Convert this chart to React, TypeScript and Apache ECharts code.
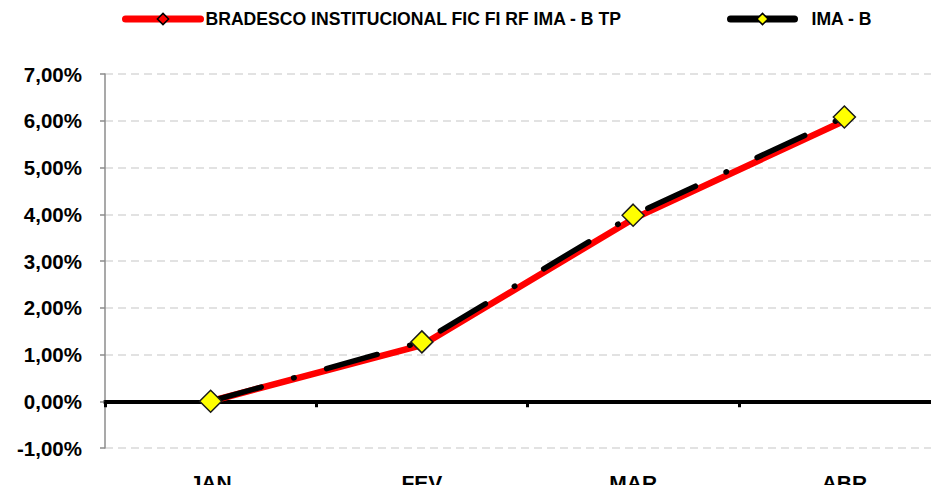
import React, { useEffect, useRef } from "react";
import * as echarts from "echarts";

const categories = ["JAN", "FEV", "MAR", "ABR"];
const fundName = "BRADESCO INSTITUCIONAL FIC FI RF IMA - B TP";
const benchName = "IMA - B";
const fundValues = [0, 1.2, 3.9, 6.0];
const benchValues = [0, 1.27, 3.98, 6.08];
const yMin = -1;
const yMax = 7;
const yStep = 1;

const FONT = "'Liberation Sans', Arial, sans-serif";

export default function App() {
  const ref = useRef<HTMLDivElement>(null);
  useEffect(() => {
    if (!ref.current) return;
    const chart = echarts.init(ref.current, undefined, { renderer: "svg" });
    chart.setOption({
      animation: false,
      backgroundColor: "#ffffff",
      legend: [
        {
          left: 122,
          top: 10,
          padding: 0,
          itemWidth: 75,
          itemHeight: 14,
          itemGap: 0,
          data: [fundName],
          lineStyle: { width: 7, cap: "round", type: "solid" },
          itemStyle: { borderColor: "#000", borderWidth: 1.5 },
          textStyle: { fontFamily: FONT, fontWeight: "bold", fontSize: 17.6, color: "#000" },
        },
        {
          left: 727,
          top: 10,
          padding: 0,
          itemWidth: 64,
          itemHeight: 14,
          itemGap: 0,
          data: [benchName],
          lineStyle: { width: 7, cap: "round", type: "solid" },
          itemStyle: { borderColor: "#000", borderWidth: 1.5 },
          textStyle: { fontFamily: FONT, fontWeight: "bold", fontSize: 17.6, color: "#000", padding: [0, 0, 0, 12] },
        },
      ],
      grid: { left: 105, top: 74, bottom: 45, right: -11, containLabel: false, outerBoundsMode: "none" },
      xAxis: [
        {
          type: "category",
          data: categories,
          boundaryGap: true,
          axisLine: { show: true, onZero: true, lineStyle: { color: "#000", width: 4 } },
          axisTick: { show: true, length: 6, lineStyle: { color: "#000", width: 3 } },
          axisLabel: { show: false },
          splitLine: { show: false },
        },
        {
          type: "category",
          data: categories,
          position: "bottom",
          boundaryGap: true,
          axisLine: { show: false, onZero: false },
          axisTick: { show: false },
          axisLabel: {
            margin: 24,
            fontFamily: FONT,
            fontWeight: "bold",
            fontSize: 21,
            lineHeight: 21,
            verticalAlign: "top",
            color: "#000",
          },
          splitLine: { show: false },
        },
      ],
      yAxis: {
        type: "value",
        min: yMin,
        max: yMax,
        interval: yStep,
        axisLine: { show: true, lineStyle: { color: "#8c8c8c", width: 1.5 } },
        axisTick: { show: true, length: 5, lineStyle: { color: "#8c8c8c", width: 1.5 } },
        axisLabel: {
          margin: 23,
          fontFamily: FONT,
          fontWeight: "bold",
          fontSize: 20.5,
          color: "#000",
          formatter: (v: number) => v.toFixed(2).replace(".", ",") + "%",
        },
        splitLine: { show: true, lineStyle: { color: "#d9d9d9", width: 1.5, type: [8, 5] } },
      },
      series: [
        {
          name: fundName,
          type: "line",
          data: fundValues,
          z: 2,
          symbol: "diamond",
          symbolSize: 9,
          showSymbol: true,
          itemStyle: { color: "#ff0000", borderColor: "#000", borderWidth: 1.5 },
          lineStyle: { color: "#ff0000", width: 6.5, cap: "round", join: "round" },
        },
        {
          name: benchName,
          type: "line",
          data: benchValues,
          z: 3,
          symbol: "diamond",
          symbolSize: 22,
          itemStyle: { color: "#ffff00", borderColor: "#1a1a1a", borderWidth: 1.5 },
          lineStyle: {
            color: "#000",
            width: 5.5,
            cap: "round",
            join: "round",
            type: [52.5, 33.75, 0.5, 33.75],
          },
        },
      ],
    });
    return () => chart.dispose();
  }, []);
  return <div ref={ref} style={{ width: 939, height: 493, margin: -8 }} />;
}
